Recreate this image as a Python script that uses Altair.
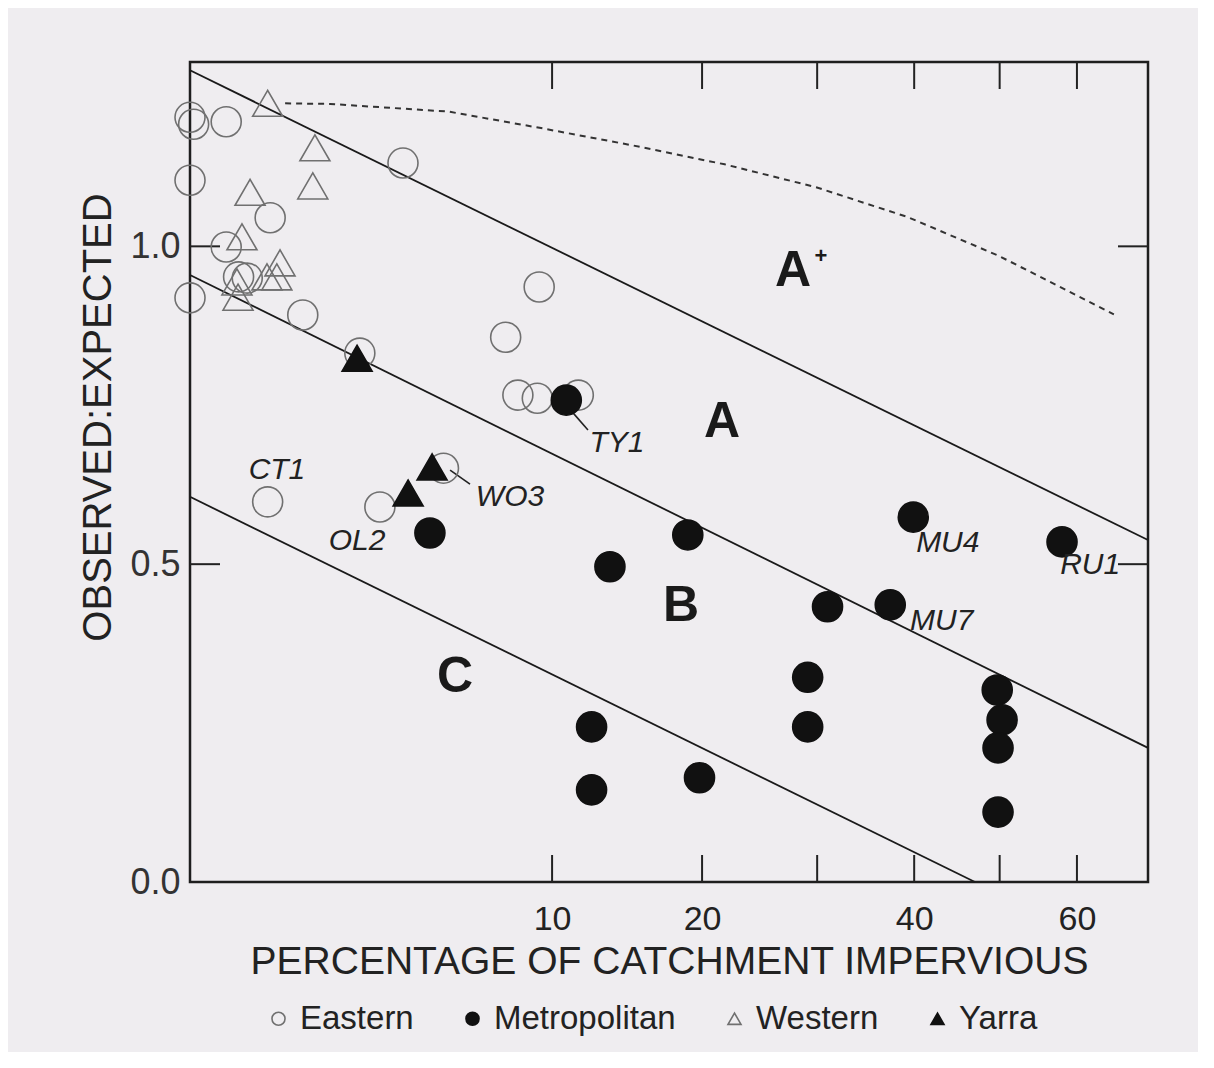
import altair as alt
import pandas as pd

FONT = "Liberation Sans, Arial, Helvetica, sans-serif"

# ---------------- data ----------------
groups = ["Eastern", "Metropolitan", "Western", "Yarra"]

eastern_x = [0.0, 0.001, 0.10, 0.0, 0.49, 0.10, 0.0, 0.97, 3.46, 0.18, 0.25, 2.20,
             9.3, 7.6, 8.2, 9.2, 11.5, 0.46, 2.75, 4.9]
eastern_y = [1.203, 1.192, 1.196, 1.104, 1.045, 0.999, 0.919, 0.892, 1.131, 0.952, 0.950, 0.832,
             0.936, 0.857, 0.766, 0.761, 0.766, 0.598, 0.590, 0.651]

western_x = [0.46, 1.19, 1.15, 0.275, 0.206, 0.168, 0.176, 0.452, 0.618, 0.575]
western_y = [1.225, 1.155, 1.095, 1.085, 1.015, 0.944, 0.920, 0.952, 0.974, 0.952]

metro_x = [10.8, 4.39, 13.45, 18.9, 39.9, 58.0, 31.0, 37.4, 29.1, 29.1, 12.3, 12.3, 19.8,
           49.7, 50.3, 49.8, 49.8]
metro_y = [0.758, 0.549, 0.496, 0.546, 0.574, 0.535, 0.433, 0.436, 0.322, 0.244, 0.244, 0.145, 0.164,
           0.302, 0.255, 0.211, 0.110]

yarra_x = [2.13, 4.47, 3.63]
yarra_y = [0.824, 0.653, 0.612]

# boundary lines between classes (end points)
bound_id = ["Aplus_A", "Aplus_A", "A_B", "A_B", "B_C", "B_C"]
bound_x = [0.0, 70.0, 0.0, 70.0, 0.0, 47.0]
bound_y = [1.277, 0.538, 0.955, 0.211, 0.606, 0.0]

# dashed upper curve
dash_x = [0.69, 1.5, 5.1, 9.4, 14.9, 21.8, 29.9, 39.3, 49.9, 65.1]
dash_y = [1.225, 1.224, 1.212, 1.186, 1.159, 1.129, 1.093, 1.046, 0.985, 0.893]

# class letters
region_text = ["A", "A", "B", "C"]
region_x = [27.74, 21.59, 18.39, 5.36]
region_y = [0.961, 0.724, 0.434, 0.322]
plus_text = ["+"]
plus_x = [30.37]
plus_y = [0.985]

# site labels
site_text = ["CT1", "OL2", "WO3", "TY1", "MU4", "MU7", "RU1"]
site_x = [0.577, 2.13, 7.81, 13.91, 43.8, 43.1, 61.8]
site_y = [0.648, 0.536, 0.606, 0.690, 0.534, 0.411, 0.498]

# leader lines
lead_x = [11.19, 5.16]
lead_y = [0.738, 0.648]
lead_x2 = [12.08, 5.98]
lead_y2 = [0.711, 0.626]

x_ticks = [10, 20, 30, 40, 50, 60]
x_labels = [10, 20, 40, 60]
y_ticks = [0.5, 1.0]
y_labels = [0.0, 0.5, 1.0]

# ---------------- tables ----------------
pts = pd.DataFrame({
    "x": eastern_x + western_x + metro_x + yarra_x,
    "y": eastern_y + western_y + metro_y + yarra_y,
    "group": ["Eastern"] * len(eastern_x) + ["Western"] * len(western_x)
             + ["Metropolitan"] * len(metro_x) + ["Yarra"] * len(yarra_x),
})
bounds = pd.DataFrame({"id": bound_id, "x": bound_x, "y": bound_y})
dash = pd.DataFrame({"x": dash_x, "y": dash_y, "o": list(range(len(dash_x)))})
regions = pd.DataFrame({"t": region_text, "x": region_x, "y": region_y})
plus = pd.DataFrame({"t": plus_text, "x": plus_x, "y": plus_y})
sites = pd.DataFrame({"t": site_text, "x": site_x, "y": site_y})
leads = pd.DataFrame({"x": lead_x, "y": lead_y, "x2": lead_x2, "y2": lead_y2})
xt = pd.DataFrame({"x": x_ticks})
yt = pd.DataFrame({"y": y_ticks})

W, H = 958, 820

xs = alt.Scale(type="sqrt", domain=[0, 70], nice=False, zero=False)
ys = alt.Scale(domain=[0, 1.29], nice=False, zero=False)

xaxis = alt.Axis(values=x_labels, ticks=False, domain=False, grid=False,
                 labelFontSize=34, labelFont=FONT, labelColor="#222", labelPadding=20,
                 title="PERCENTAGE OF CATCHMENT IMPERVIOUS", titleFontSize=39,
                 titleFont=FONT, titleFontWeight="normal", titleColor="#222", titlePadding=6)
yaxis = alt.Axis(values=y_labels, format=".1f", ticks=False, domain=False, grid=False,
                 labelFontSize=36, labelFont=FONT, labelColor="#333", labelPadding=10,
                 title="OBSERVED:EXPECTED", titleFontSize=40, titleFont=FONT,
                 titleFontWeight="normal", titleColor="#222", titleX=-72, titleY=355)


def X(f="x"):
    return alt.X(f + ":Q", scale=xs, axis=xaxis)


def Y(f="y"):
    return alt.Y(f + ":Q", scale=ys, axis=yaxis)


leg = alt.Legend(title=None, orient="none", direction="horizontal", legendX=72, legendY=940,
                 labelFontSize=33, labelFont=FONT, labelColor="#222", symbolSize=170,
                 symbolStrokeWidth=1.6, columnPadding=42, labelOffset=5, padding=0,
                 labelLimit=500)

points = alt.Chart(pts).mark_point(size=900, strokeWidth=1.6, opacity=1).encode(
    x=X(), y=Y(),
    shape=alt.Shape("group:N", scale=alt.Scale(domain=groups,
                    range=["circle", "circle", "triangle-up", "triangle-up"]), legend=leg),
    fill=alt.Fill("group:N", scale=alt.Scale(domain=groups,
                  range=["transparent", "#111111", "transparent", "#111111"]), legend=leg),
    stroke=alt.Stroke("group:N", scale=alt.Scale(domain=groups,
                      range=["#707070", "#111111", "#707070", "#111111"]), legend=leg),
)

lines = alt.Chart(bounds).mark_line(color="#1a1a1a", strokeWidth=1.8).encode(
    x=X(), y=Y(), detail="id:N")

dashed = alt.Chart(dash).mark_line(color="#333", strokeWidth=2, strokeDash=[6, 5]).encode(
    x=X(), y=Y(), order="o:Q")

region_lbl = alt.Chart(regions).mark_text(fontSize=50, fontWeight="bold", font=FONT,
                                          color="#1a1a1a", baseline="middle").encode(
    x=X(), y=Y(), text="t:N")
plus_lbl = alt.Chart(plus).mark_text(fontSize=22, fontWeight="bold", font=FONT,
                                     color="#1a1a1a", baseline="middle").encode(
    x=X(), y=Y(), text="t:N")
site_lbl = alt.Chart(sites).mark_text(fontSize=30, fontStyle="italic", font=FONT,
                                      color="#222", baseline="middle").encode(
    x=X(), y=Y(), text="t:N")

leaders = alt.Chart(leads).mark_rule(color="#222", strokeWidth=1.6).encode(
    x=X(), y=Y(), x2="x2:Q", y2="y2:Q")

tick_b = alt.Chart(xt).mark_rule(color="#222", strokeWidth=2).encode(
    x=X(), y=alt.value(H), y2=alt.value(H - 27))
tick_t = alt.Chart(xt).mark_rule(color="#222", strokeWidth=2).encode(
    x=X(), y=alt.value(0), y2=alt.value(27))
tick_l = alt.Chart(yt).mark_rule(color="#222", strokeWidth=2).encode(
    y=Y(), x=alt.value(0), x2=alt.value(30))
tick_r = alt.Chart(yt).mark_rule(color="#222", strokeWidth=2).encode(
    y=Y(), x=alt.value(W), x2=alt.value(W - 30))

chart = alt.layer(
    lines, dashed, tick_b, tick_t, tick_l, tick_r, leaders, points,
    region_lbl, plus_lbl, site_lbl
).properties(
    width=W, height=H,
    autosize=alt.AutoSizeParams(type="none"),
    padding={"left": 182, "top": 54, "right": 50, "bottom": 170},
    background="#efedf0",
).configure_view(
    stroke="#1e1e1e", strokeWidth=2.5, fill=None
)

chart.save("out.html", embed_options={"renderer": "svg", "actions": False})
